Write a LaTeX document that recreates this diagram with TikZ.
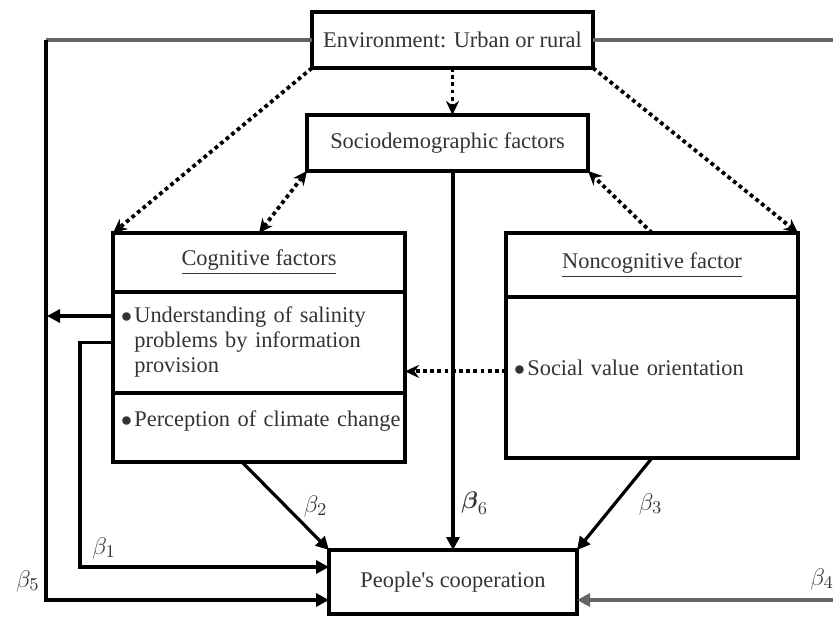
\documentclass[tikz,border=0pt]{standalone}
\usepackage{amsmath}
\usepackage{fontspec}
\setmainfont{Liberation Serif}
\usetikzlibrary{positioning, arrows.meta}
\definecolor{textgray}{RGB}{51,51,51}
\definecolor{linegray}{RGB}{100,100,100}
\newcommand{\itemdot}{$\bullet$\hspace{1.2pt}}

\begin{document}
\begin{tikzpicture}[x=0.5pt, y=-0.5pt, >={Stealth[length=7pt,width=6.5pt]},
    box/.style={draw, line width=1.6pt, outer sep=0pt, inner sep=0pt,
      text=textgray, font=\fontsize{11.2}{12.3}\selectfont, align=center},
    itembox/.style={box, text width=138pt, inner xsep=4pt, align=left},
    solid link/.style={line width=1.6pt, -{Triangle[length=6.5pt,width=6.5pt]}},
    dot link/.style={line width=1.9pt, dash pattern=on 1.9pt off 1.7pt},
    gray link/.style={line width=1.6pt, draw=linegray},
    coef/.style={text=textgray, font=\fontsize{12.5}{14}\selectfont}]
  \useasboundingbox (0,0) rectangle (833,616);

  % top boxes
  \node[box, minimum width=140.5pt, minimum height=28pt] (env) at (452.5,40) {Environment: Urban or rural};
  \node[box, minimum width=140.5pt, minimum height=28pt] (socio) at (447.5,143) {Sociodemographic factors};

  % cognitive factors
  \node[box, minimum width=146pt, minimum height=29.5pt] (cogtitle) at (259,262.5) {\underline{Cognitive factors}};
  \node[itembox, minimum height=50.5pt, below=0pt of cogtitle] (cogunder)
    {\begin{tabular}{@{}l@{\hspace{1.2pt}}l@{}}$\bullet$ & Understanding of salinity\\
      & problems by information\\ & provision\end{tabular}};
  \node[itembox, minimum height=34.5pt, text depth=8.8pt, below=0pt of cogunder] (cogclim)
    {\mbox{\itemdot Perception of climate change}};

  % noncognitive factor
  \node[box, minimum width=146pt, minimum height=32pt] (noncogtitle) at (652,265) {\underline{Noncognitive factor}};
  \node[itembox, minimum height=80.5pt, text depth=9.3pt, below=0pt of noncogtitle] (noncogitem)
    {\mbox{\itemdot Social value orientation}};

  % outcome
  \node[box, minimum width=124pt, minimum height=32pt] (coop) at (453,582) {People\textquotesingle s cooperation};

  \coordinate (lbend) at (46,40);
  \coordinate (rtop) at (833,40);
  \coordinate (rin) at (833,600);

  % dotted relations
  \draw[dot link, ->] (env.south) -- (env.south |- socio.north);
  \draw[dot link, ->] (env.south west) -- (cogtitle.north west);
  \draw[dot link, ->] (env.south east) -- (noncogtitle.north east);
  \draw[dot link, <->] (socio.south west) -- (cogtitle.north);
  \draw[dot link, ->] (noncogtitle.north) -- (socio.south east);
  \draw[dot link, ->] (noncogitem.mid west) -- (noncogitem.mid west -| cogunder.east);

  % environment paths
  \draw[gray link] (env.west) -- (lbend);
  \draw[gray link] (env.east) -- (rtop);
  \draw[solid link] (lbend) |- ([yshift=-9pt]coop.west)
    node[coef, pos=0.5, above left, xshift=1pt] (b5) {$\beta_5$};
  \draw[gray link, -{Triangle[length=6.5pt,width=6.5pt]}] (rin) -- ([yshift=-9pt]coop.east);
  \node[coef] (b4) at (822,579) {$\beta_4$};

  % paths to cooperation
  \draw[solid link] ([yshift=13.25pt]cogunder.west) -- ++(-66,0);
  \draw[solid link] (cogunder.west) -- ++(-33,0) |- ([yshift=7.5pt]coop.west)
    node[coef, pos=0.5, above right, xshift=2pt] (b1) {$\beta_1$};
  \draw[solid link] ([xshift=-8.5pt]cogclim.south) -- (coop.north west)
    node[coef, midway, right=5pt] (b2) {$\beta_2$};
  \draw[solid link] (coop.north |- socio.south) -- (coop.north)
    node[coef, pos=0.876, right] (b6) {$\boldsymbol{\beta}_6$};
  \draw[solid link] (noncogitem.south) -- (coop.north east)
    node[coef, midway, right=8pt] (b3) {$\beta_3$};
\end{tikzpicture}
\end{document}
